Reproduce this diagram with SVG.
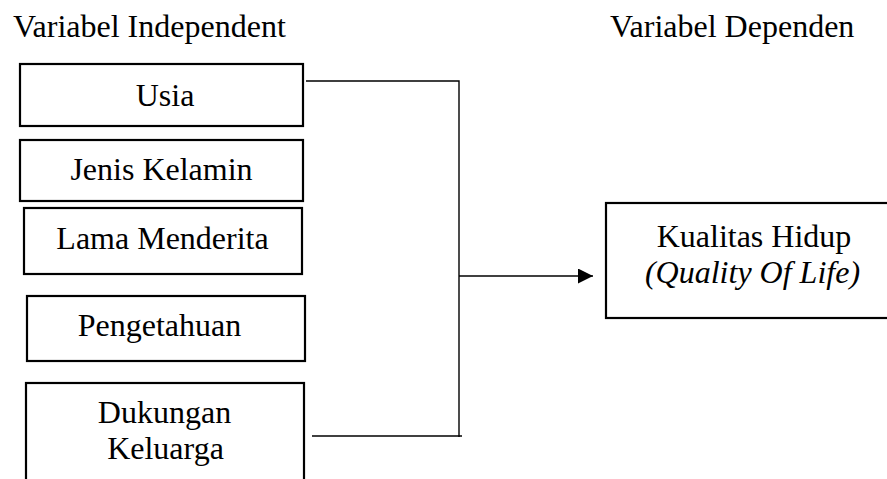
<svg xmlns="http://www.w3.org/2000/svg" width="887" height="479" viewBox="0 0 887 479">
<style>
text{font-family:"Liberation Serif","Times New Roman",serif;font-size:32px;fill:#000}
.c{text-anchor:middle}
.box{fill:#fff;stroke:#000;stroke-width:2.2}
.ln{fill:none;stroke:#000;stroke-width:1.4}
</style>
<defs>
<marker id="ah" markerWidth="16" markerHeight="15" refX="15" refY="7.5" orient="auto" markerUnits="userSpaceOnUse">
<path d="M0,0 L15,7.5 L0,15 Z" fill="#000"/>
</marker>
</defs>
<rect width="887" height="479" fill="#fff"/>
<text x="13" y="37">Variabel Independent</text>
<text x="610" y="37">Variabel Dependen</text>
<g id="usia"><rect class="box" x="20" y="64" width="283" height="62"/><text class="c" x="165" y="106">Usia</text></g>
<g id="jenis"><rect class="box" x="20" y="140" width="283" height="61"/><text class="c" x="161.5" y="180">Jenis Kelamin</text></g>
<g id="lama"><rect class="box" x="24" y="208" width="278" height="66"/><text class="c" x="162.5" y="249">Lama Menderita</text></g>
<g id="pengetahuan"><rect class="box" x="27" y="296" width="278" height="65"/><text class="c" x="159.5" y="336">Pengetahuan</text></g>
<g id="dukungan"><rect class="box" x="26" y="383" width="278" height="110"/><text class="c" x="164.5" y="423">Dukungan</text><text class="c" x="165.5" y="459">Keluarga</text></g>
<g id="kualitas"><rect class="box" x="606" y="203" width="300" height="115"/><text class="c" x="754" y="247">Kualitas Hidup</text><text class="c" x="752.5" y="283" font-style="italic">(Quality Of Life)</text></g>
<g id="connectors">
<polyline class="ln" points="306,81 459,81 459,437"/>
<line class="ln" x1="312" y1="436" x2="462" y2="436"/>
<line class="ln" x1="459" y1="276" x2="593" y2="276" marker-end="url(#ah)"/>
</g>
</svg>
